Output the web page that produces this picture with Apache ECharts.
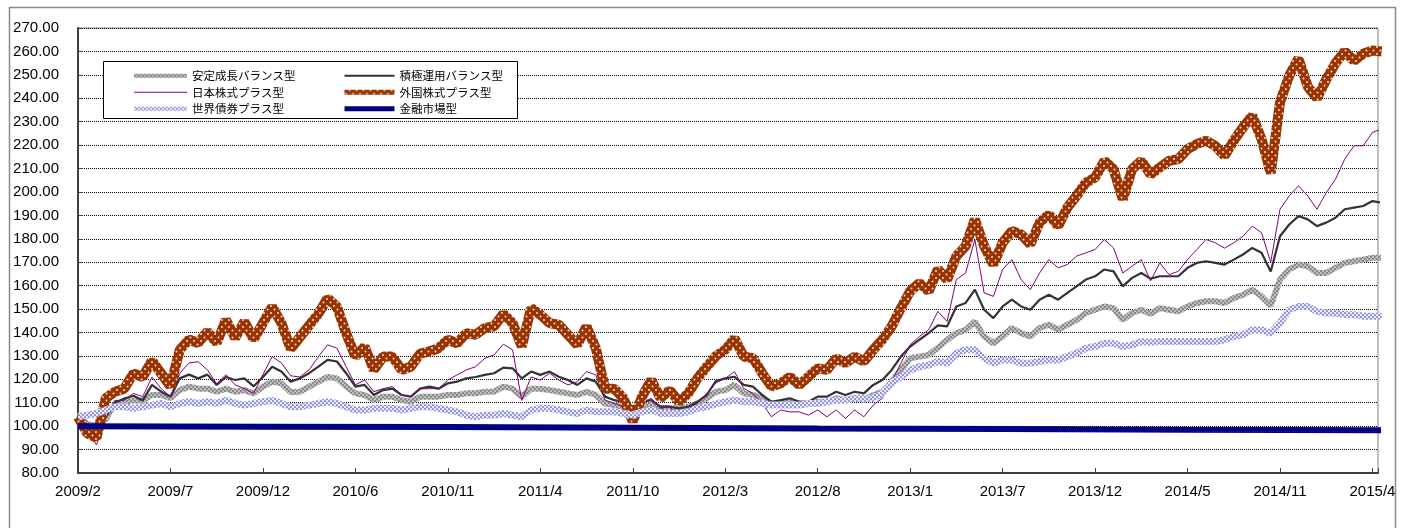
<!DOCTYPE html>
<html>
<head>
<meta charset="utf-8">
<script src="https://cdn.jsdelivr.net/npm/echarts@6/dist/echarts.min.js"></script>
<style>
html,body{margin:0;padding:0;background:#fff;}
#chart{width:1403px;height:528px;}
</style>
</head>
<body>
<div id="chart"></div>
<script>
// ---- tick labels (x axis), one every POINTS_PER_TICK samples ----
const tickLabels = ['2009/2','2009/7','2009/12','2010/6','2010/11','2011/4','2011/10','2012/3','2012/8','2013/1','2013/7','2013/12','2014/5','2014/11','2015/4'];
const POINTS_PER_TICK = 10;

const seriesNames = ['安定成長バランス型','積極運用バランス型','日本株式プラス型','外国株式プラス型','世界債券プラス型','金融市場型'];

// ---- series values (sample index 0..141) ----
const antei = [104,101,100,103,109.7,110.4,111,111,113.3,113.3,112,115.4,116.9,116,116,114.7,116,114.7,115.4,114,116.9,119,118.3,114.5,
114.7,116.9,119,121,120.4,116.9,114,113.3,111.1,112.6,112.6,111.1,110.4,112.6,112.6,112.6,113.3,113.3,114,114,114.7,114.7,116.9,
116,112.6,116,116,115.4,114.7,114,113.3,114.7,113.3,109.7,109,108.3,107.6,108.3,109,107.6,107.6,107.6,108.3,109.7,111.9,114.7,
115.4,117.6,114,113.3,111.9,109.7,109.7,110.4,109.7,109.7,110.4,110.4,111.9,111.1,111.9,111.1,113.3,114.7,119,124,129,129.7,130.4,133.5,
136.9,139.7,141.1,144.7,138.3,135.4,138.3,141.9,139.7,138.3,141.9,143.3,141.1,143.3,145.4,148.3,149.7,151.1,150.4,145.4,148.3,149.7,148,
150.4,149.7,149,151.1,152.6,153.3,153.3,152.6,154.7,156.1,158.3,155.4,151.5,162.6,166.9,169,168.3,165.4,165.4,167.6,169.7,170.4,171.1,171.9,171.9];

const sekkyoku = [103,100,98,104,110,111.8,113,111,117.6,114.7,112.6,120.4,122,120.4,122,117.6,121,119.7,120.4,117,121,125.4,123.3,119,
120.4,122.6,125.4,128.3,127.6,122.6,116.9,117.6,113.3,115.4,116,113.3,112.6,116,116.9,116,118.3,119,120.4,121,121.9,122.6,125,
124.7,120.4,123.3,121.9,123.3,121.1,119.7,117.6,120.4,119,112.6,111.1,110.4,108.3,110.4,111.1,108.3,108.3,107.6,108.3,110.4,113.3,119.3,
120.4,121.1,117.6,116.9,113.3,110.4,111.1,111.9,110.4,110.4,112.6,112.6,114.7,113.3,114.7,114,117.6,119.7,124,129.7,134,136.9,139.7,143,
142.6,151.1,152.6,158.3,149.7,146.1,151.1,154,151.1,149.7,154,156.1,154,156.9,159.7,162.6,164,166.9,166.1,159.7,163.3,165.4,163,
164,164,164,167.6,169.7,170.4,169.7,169,171.1,173.3,176.1,174,166,181.1,186.1,189.7,188.3,185.4,186.9,189,192.6,193.3,194,196.1,195.4];

const nihon = [104,97.6,92,104,111,111,114,112.6,121,116,112.6,122.5,127,127.5,124,118,122,117.6,116,114,122,129.7,127,121.5,
121,124,129.7,134.7,133.3,125.4,117.6,119.7,114.7,116,116.9,113.3,112.6,116,116,116,119.7,121.9,124,125.4,129,130.4,135,
132.6,111,121,119.7,122.6,119.7,117.6,119,123.3,121.9,111.1,109.7,108.3,106.1,109.7,111.9,107.6,108.3,104,107.6,109.7,114,118.5,
120.4,123.3,116.1,114,109.7,104,106.9,106.1,106.1,104.7,106.9,104,106.9,103.3,106.9,104,109,111.9,119,126.9,134.7,138.3,141.1,149,
144.7,162.6,165.4,179.7,156.9,155.4,166.9,171.1,162.6,158.3,165.4,171.1,167.6,169,172.6,174,175.4,179.7,176.1,165.4,168.3,171.1,162,
169.7,164.7,166.1,171.1,175.4,179.7,178.3,176,178.3,181.1,185.4,182.6,170,192.6,198.3,202.6,198.3,192.6,199.7,205.4,214,219.7,219.7,225.4,226.9];

const gaikoku = [104,97,95,112,114.7,116,122.5,121,128,122.5,117,132.5,137,135.5,140.5,135.5,145.4,137.6,144.7,137,144,151,144,133,
138,143,148,154.7,151,139.7,129.7,134,124,129.7,129.7,124,125.4,131,131.9,133.3,136.9,135.4,139.7,139,141.9,142.6,148,
144,134,150.4,147.6,144,143.3,139,134.7,142.6,133.3,116,116,111.9,102,112.6,119.7,111.9,115.4,110.4,114,120.4,125.4,130,
132.6,137.5,129.7,129,122.6,116.9,118.3,121.1,117.6,121.1,124.7,124,129,126.9,129.7,127.6,132.6,136.9,142.6,150.4,157.6,161.1,157.6,167,
162.6,172.6,176.9,188.3,176.9,169,178.3,183.3,181.9,177.6,186.9,190.4,185.4,193.3,198.3,204,206.1,213.3,209.7,196.9,209.7,213.3,207.5,
210.4,213.3,214,218.3,220.4,221.9,219.7,215.4,221.9,227.6,232.6,222.6,208,238.3,249.7,257,245,240,248,255,260,256,259,260.4,260];

const sekai = [104,104.7,105.4,106.9,108.3,108.3,107.6,108.3,109,109.7,108.3,109.7,110.4,109.7,110.4,109.7,111,109.7,109,109.7,110.4,111,109.7,108.3,
108.3,109,109.7,110.4,109.7,108.3,106.9,106.9,107.6,107.6,107.6,106.9,107.6,108.3,108.3,107.6,106.9,106.1,104.7,104,104.7,104.7,105.4,
104.7,104,106.9,107.6,107.6,106.9,106.1,105.4,106.9,106.1,106.1,106.1,105.4,104.7,106.1,106.9,105.4,105.4,105.4,106.1,107.6,108.3,109.5,
110.4,111.1,110.4,110.4,109.7,109,109,109,109,109.7,109.7,110.4,111.1,111.1,111.9,111.9,111.9,114,118.3,121.1,124,125.4,126.1,127.6,
126.9,131.1,132.6,132.6,129,126.9,128.3,128.3,126.9,126.9,127.6,128.3,128.3,129.7,131.1,133.3,134,135.4,135.4,134,134.7,136.1,135.8,
136.1,136.1,136.1,136.1,136.1,136.1,136.1,136.9,138.3,139,141.1,141.1,139.7,144,149.7,151.1,151.1,149,148.3,148.3,147.6,147.6,146.9,146.9,146.9];

// money market: read at a few sample indices (nearly flat)
const kinyuIdx  = [0, 20, 40, 60, 80, 100, 120, 141];
const kinyuVals = [100.0, 99.8, 99.6, 99.3, 99.0, 98.8, 98.5, 98.3];

// ---- patterns for textured lines ----
function makePattern(w, h, bg, dots, dotColor, r) {
  const c = document.createElement('canvas');
  c.width = w; c.height = h;
  const ctx = c.getContext('2d');
  ctx.fillStyle = bg; ctx.fillRect(0, 0, w, h);
  ctx.fillStyle = dotColor;
  dots.forEach(function (d) { ctx.beginPath(); ctx.arc(d[0], d[1], r, 0, Math.PI * 2); ctx.fill(); });
  return { image: c, repeat: 'repeat' };
}
const greyPat   = makePattern(4, 4, '#8a8a8a', [[1, 1], [3, 3]], '#f2f2f2', 0.85);
const orangePat = makePattern(7, 7, '#993300', [[1.5, 1.5], [5, 5]], '#f2dccc', 1.0);
const bluePat   = makePattern(4, 4, '#eaeafc', [[1, 1], [3, 3]], '#4646c8', 0.85);

function pairs(arr) { return arr.map(function (v, i) { return [i, v]; }); }

const chart = echarts.init(document.getElementById('chart'), null, { renderer: 'canvas' });

const labelFont = { fontFamily: 'Liberation Sans, Arial, sans-serif', fontSize: 15, color: '#000' };
const legendText = { fontFamily: 'Noto Sans CJK JP, sans-serif', fontSize: 11.5, color: '#000' };

function lineSeries(name, data, style, z) {
  return {
    name: name, type: 'line', data: data, symbol: 'none', showSymbol: false,
    lineStyle: style, z: z, silent: true, animation: false,
    emphasis: { disabled: true }, clip: true
  };
}

const hiddenSymbol = { opacity: 0, borderWidth: 0 };

chart.setOption({
  animation: false,
  grid: { left: 78, right: 25, top: 28, bottom: 55, show: true, borderColor: '#808080', borderWidth: 1, containLabel: false },
  xAxis: {
    type: 'value', min: 0, max: (tickLabels.length - 1) * POINTS_PER_TICK + 0.6, interval: POINTS_PER_TICK,
    axisLine: { show: true, onZero: false, lineStyle: { color: '#404040', width: 2 } },
    axisTick: { show: true, inside: true, length: 5, lineStyle: { color: '#404040' } },
    splitLine: { show: false },
    axisLabel: Object.assign({
      margin: 11, showMaxLabel: true, showMinLabel: true,
      formatter: function (v) {
        const k = Math.round(v / POINTS_PER_TICK);
        return (Math.abs(v - k * POINTS_PER_TICK) < 1e-6 && tickLabels[k]) ? tickLabels[k] : '';
      }
    }, labelFont)
  },
  yAxis: {
    type: 'value', min: 80, max: 270, interval: 10,
    axisLine: { show: true, lineStyle: { color: '#404040', width: 2 } },
    axisTick: { show: true, inside: true, length: 5, lineStyle: { color: '#404040' } },
    splitLine: { show: true, lineStyle: { color: '#000', width: 1, type: [1, 1] } },
    axisLabel: Object.assign({ margin: 19, formatter: function (v) { return v.toFixed(2); } }, labelFont)
  },
  legend: [
    { orient: 'vertical', left: 127, top: 65, itemWidth: 53, itemHeight: 14, itemGap: 5, selectedMode: false, z: 10,
      textStyle: legendText, itemStyle: hiddenSymbol,
      data: [ { name: seriesNames[0], lineStyle: { width: 4 }, itemStyle: hiddenSymbol },
              { name: seriesNames[2], lineStyle: { width: 1 }, itemStyle: hiddenSymbol },
              { name: seriesNames[4], lineStyle: { width: 4 }, itemStyle: hiddenSymbol } ] },
    { orient: 'vertical', left: 337, top: 65, itemWidth: 50, itemHeight: 14, itemGap: 5, selectedMode: false, z: 10,
      textStyle: legendText, itemStyle: hiddenSymbol,
      data: [ { name: seriesNames[1], lineStyle: { width: 2 }, itemStyle: hiddenSymbol },
              { name: seriesNames[3], lineStyle: { width: 5 }, itemStyle: hiddenSymbol },
              { name: seriesNames[5], lineStyle: { width: 5 }, itemStyle: hiddenSymbol } ] }
  ],
  graphic: [
    { type: 'rect', z: 5, shape: { x: 103.5, y: 61.5, width: 414, height: 57 }, style: { fill: '#fff', stroke: '#000', lineWidth: 1 }, silent: true },
    { type: 'rect', z: 0, shape: { x: 9.5, y: 7.5, width: 1386, height: 560 }, style: { fill: 'none', stroke: '#8a8a8a', lineWidth: 1.5 }, silent: true }
  ],
  series: [
    lineSeries(seriesNames[0], pairs(antei), { color: greyPat, width: 6 }, 2),
    lineSeries(seriesNames[1], pairs(sekkyoku), { color: '#333333', width: 2.2 }, 3),
    lineSeries(seriesNames[2], pairs(nihon), { color: '#800080', width: 1 }, 4),
    lineSeries(seriesNames[3], pairs(gaikoku), { color: orangePat, width: 10 }, 5),
    lineSeries(seriesNames[4], pairs(sekai), { color: bluePat, width: 7 }, 6),
    lineSeries(seriesNames[5], kinyuIdx.map(function (ix, k) { return [ix, kinyuVals[k]]; }), { color: '#000080', width: 6 }, 7)
  ]
});
</script>
</body>
</html>
